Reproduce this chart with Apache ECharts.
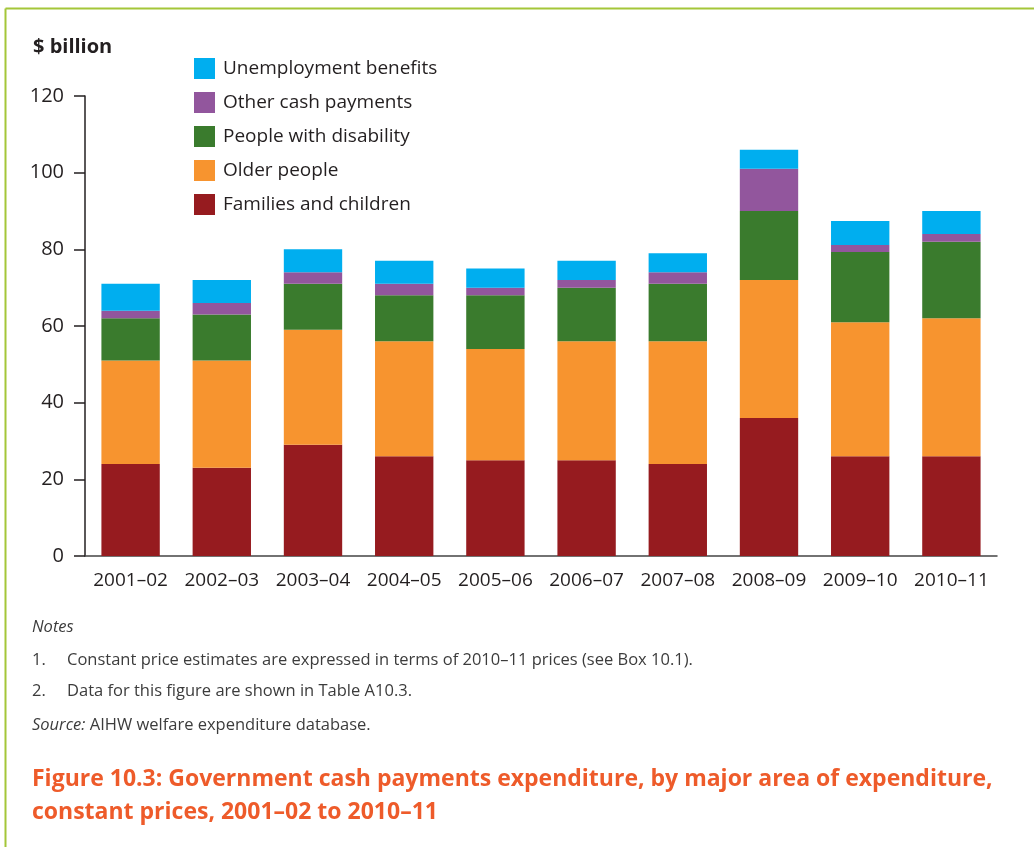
<!DOCTYPE html>
<html>
<head>
<meta charset="utf-8">
<script src="https://cdn.jsdelivr.net/npm/echarts@6/dist/echarts.min.js"></script>
<style>
  html, body { margin: 0; padding: 0; background: #ffffff; }
  #chart { width: 1034px; height: 847px; }
</style>
</head>
<body>
<div id="chart"></div>
<script>
// Financial years shown along the horizontal axis
const years = ['2001–02', '2002–03', '2003–04', '2004–05', '2005–06',
               '2006–07', '2007–08', '2008–09', '2009–10', '2010–11'];

// Expenditure by major area, $ billion (constant 2010–11 prices)
const familiesAndChildren   = [24, 23, 29, 26, 25, 25, 24, 36, 26, 26];
const olderPeople           = [27, 28, 30, 30, 29, 31, 32, 36, 35, 36];
const peopleWithDisability  = [11, 12, 12, 12, 14, 14, 15, 18, 18.3, 20];
const otherCashPayments     = [2, 3, 3, 3, 2, 2, 3, 11, 1.8, 2];
const unemploymentBenefits  = [7, 6, 6, 6, 5, 5, 5, 5, 6.3, 6];

// Value axis ticks
const yMin = 0, yMax = 120, yStep = 20;

const FONT = '"Open Sans", "Noto Sans", sans-serif';
const INK = '#231f20';
const NOTE = '#3c3c3c';

const seriesDefs = [
  { name: 'Families and children', data: familiesAndChildren,  color: '#961b1f' },
  { name: 'Older people',          data: olderPeople,          color: '#f7942f' },
  { name: 'People with disability',data: peopleWithDisability, color: '#3a7b2d' },
  { name: 'Other cash payments',   data: otherCashPayments,    color: '#92569d' },
  { name: 'Unemployment benefits', data: unemploymentBenefits, color: '#00aeef' }
];

const chart = echarts.init(document.getElementById('chart'), null, { renderer: 'canvas' });

function note(x, y, text, extra) {
  return {
    type: 'text', x: x, y: y,
    style: Object.assign({
      text: text, fontFamily: FONT, fontSize: 16.5, fill: NOTE, verticalAlign: 'middle'
    }, extra || {})
  };
}

chart.setOption({
  animation: false,
  backgroundColor: '#ffffff',
  grid: { left: 85, right: 37, top: 96, bottom: 291, containLabel: false },
  legend: {
    orient: 'vertical',
    left: 189,
    top: 53,
    itemWidth: 21,
    itemHeight: 21,
    itemGap: 13,
    icon: 'rect',
    data: ['Unemployment benefits', 'Other cash payments', 'People with disability',
           'Older people', 'Families and children'],
    textStyle: { fontFamily: FONT, fontSize: 19, color: INK, padding: [0, 0, 0, 3] }
  },
  xAxis: {
    type: 'category',
    data: years,
    axisLine: { show: true, lineStyle: { color: '#444444', width: 1.5 } },
    axisTick: { show: false },
    axisLabel: { fontFamily: FONT, fontSize: 19, color: INK, margin: 15, interval: 0 }
  },
  yAxis: {
    type: 'value',
    min: yMin,
    max: yMax,
    interval: yStep,
    splitLine: { show: false },
    axisLine: { show: true, lineStyle: { color: INK, width: 1.5 } },
    axisTick: { show: true, inside: false, length: 11, lineStyle: { color: INK, width: 1.5 } },
    axisLabel: { fontFamily: FONT, fontSize: 20, color: INK, margin: 21 }
  },
  series: seriesDefs.map(s => ({
    name: s.name,
    type: 'bar',
    stack: 'total',
    data: s.data,
    barCategoryGap: '36%',
    itemStyle: { color: s.color },
    emphasis: { disabled: true }
  })),
  graphic: [
    // frame lines
    { type: 'line', shape: { x1: 5.5, y1: 8.5, x2: 1034, y2: 8.5 },
      style: { stroke: '#a4c639', lineWidth: 2 } },
    { type: 'line', shape: { x1: 5.5, y1: 8.5, x2: 5.5, y2: 847 },
      style: { stroke: '#a4c639', lineWidth: 2 } },
    // axis unit
    { type: 'text', x: 33, y: 47,
      style: { text: '$ billion', fontFamily: FONT, fontSize: 20, fontWeight: 'bold',
               fill: INK, verticalAlign: 'middle' } },
    // notes
    note(32, 627, 'Notes', { fontStyle: 'italic' }),
    note(32, 660, '1.'),
    note(67, 660, 'Constant price estimates are expressed in terms of 2010–11 prices (see Box 10.1).'),
    note(32, 691, '2.'),
    note(67, 691, 'Data for this figure are shown in Table A10.3.'),
    note(32, 725, '{i|Source:} AIHW welfare expenditure database.', {
      rich: { i: { fontFamily: FONT, fontSize: 16.5, fontStyle: 'italic', fill: NOTE } }
    }),
    // figure caption
    { type: 'text', x: 32, y: 779,
      style: { text: 'Figure 10.3: Government cash payments expenditure, by major area of expenditure,',
               fontFamily: FONT, fontSize: 23, fontWeight: 'bold', fill: '#ee5b2a',
               verticalAlign: 'middle' } },
    { type: 'text', x: 32, y: 812,
      style: { text: 'constant prices, 2001–02 to 2010–11',
               fontFamily: FONT, fontSize: 23, fontWeight: 'bold', fill: '#ee5b2a',
               verticalAlign: 'middle' } }
  ]
});
</script>
</body>
</html>
